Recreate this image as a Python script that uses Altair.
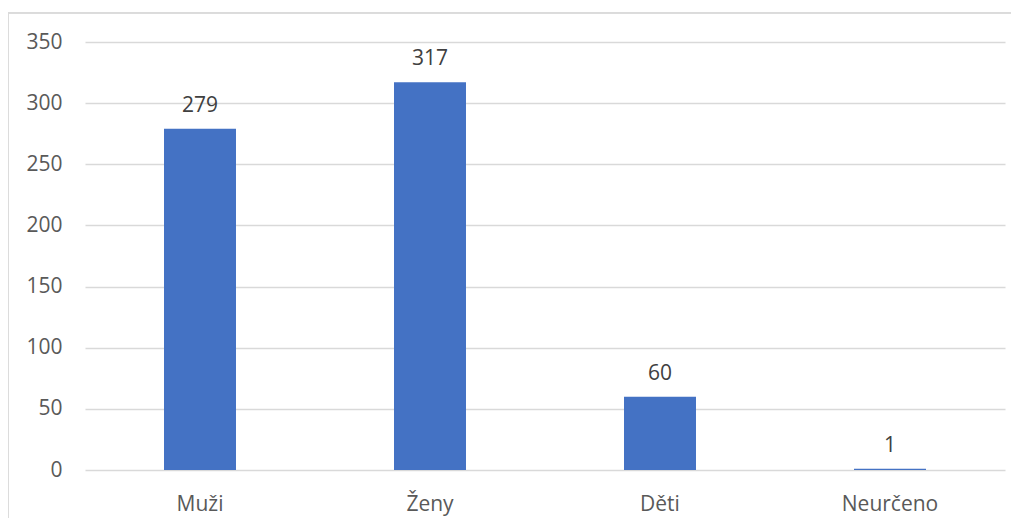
import altair as alt
import pandas as pd

categories = ["Muži", "Ženy", "Děti", "Neurčeno"]
values = [279, 317, 60, 1]

df = pd.DataFrame({"kategorie": categories, "pocet": values})

FONT = "Open Sans"
FS = 21

base = alt.Chart(df).encode(
    x=alt.X("kategorie:N", sort=categories, title=None,
            scale=alt.Scale(paddingInner=0.687, paddingOuter=0.3435),
            axis=alt.Axis(labelAngle=0, ticks=False, domain=False, labelPadding=23,
                          labelFontSize=FS, labelColor="#595959", labelFont=FONT)),
    y=alt.Y("pocet:Q", title=None, scale=alt.Scale(domain=[0, 350], nice=False),
            axis=alt.Axis(values=[0, 50, 100, 150, 200, 250, 300, 350], ticks=False, domain=False,
                          labelPadding=23, labelFontSize=FS, labelColor="#595959", labelFont=FONT,
                          gridColor="#d9d9d9", gridWidth=1.3)),
)

bars = base.mark_bar(color="#4472c4")
labels = base.mark_text(baseline="alphabetic", dy=-17, fontSize=FS, color="#404040", font=FONT).encode(
    text="pocet:Q")

frame = alt.Chart(df).mark_rect(fill=None, stroke="#d9d9d9", strokeWidth=1).encode(
    x=alt.value(-77), x2=alt.value(1100), y=alt.value(-29), y2=alt.value(600))

chart = (frame + bars + labels).properties(
    width=920, height=428,
    autosize=alt.AutoSizeParams(type="none"),
    padding={"left": 77, "top": 34, "right": 6, "bottom": 48},
).configure_view(stroke=None)

chart.save("out.html", embed_options={"renderer": "svg", "actions": False})
